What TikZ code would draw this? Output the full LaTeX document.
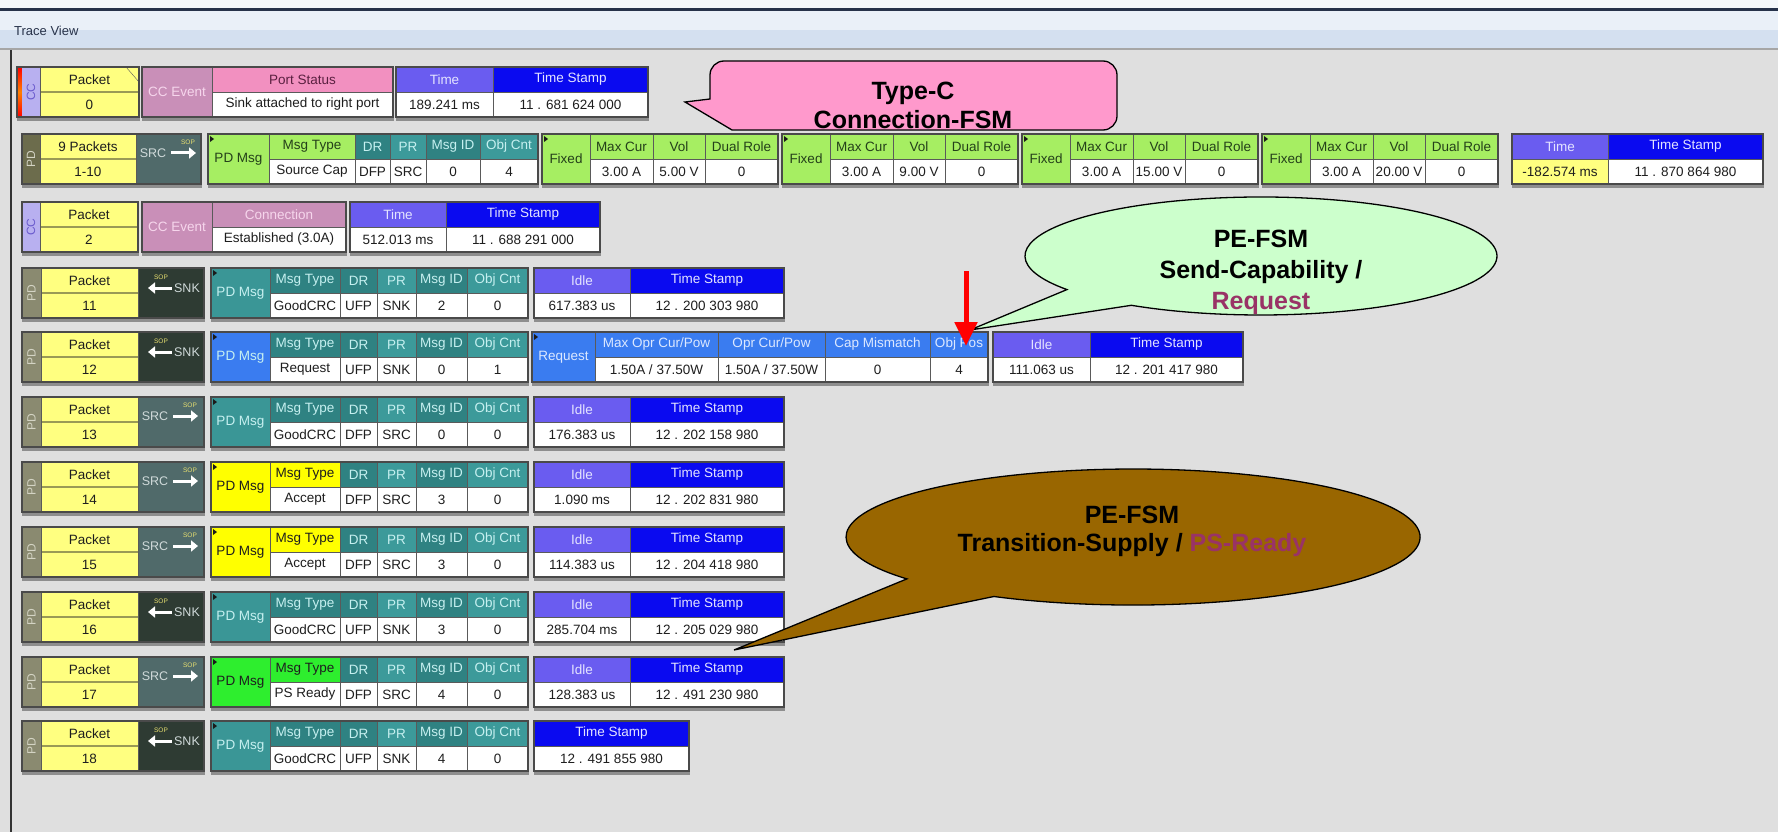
\documentclass[tikz,border=0pt]{standalone}
\usepackage{fontspec}
\setmainfont{Liberation Sans}
\usetikzlibrary{arrows.meta}

% palette
\definecolor{panelbg}{HTML}{DFDFDF}
\definecolor{titletop}{HTML}{EAF0F8}
\definecolor{titlebot}{HTML}{C6D5EA}
\definecolor{darkline}{HTML}{27324A}
\definecolor{cellline}{HTML}{5A5A5A}
\definecolor{framec}{HTML}{4A4A4A}
\definecolor{shadowc}{HTML}{8E8E8E}
\definecolor{pktyel}{HTML}{FFFF80}
\definecolor{pktline}{HTML}{9A9A55}
\definecolor{pdcol}{HTML}{8A8A70}
\definecolor{pdcoldark}{HTML}{6C6C4C}
\definecolor{pdcoltext}{HTML}{D4D4C4}
\definecolor{cccol}{HTML}{B8B0F0}
\definecolor{cctext}{HTML}{6A5ACD}
\definecolor{srcc}{HTML}{506A6A}
\definecolor{snkc}{HTML}{2E3B33}
\definecolor{srctext}{HTML}{D0DADA}
\definecolor{soptext}{HTML}{E8E070}
\definecolor{tealmsg}{HTML}{3A9696}
\definecolor{tealhdr}{HTML}{2F8282}
\definecolor{teallt}{HTML}{3C9A9A}
\definecolor{tealtext}{HTML}{C6F0F0}
\definecolor{valtext}{HTML}{1E1E1E}
\definecolor{idleh}{HTML}{6A5CF0}
\definecolor{tsh}{HTML}{0A0AF0}
\definecolor{hdrwhite}{HTML}{E4E4FF}
\definecolor{ccev}{HTML}{C98FB8}
\definecolor{ccevtext}{HTML}{F6D6EC}
\definecolor{portpink}{HTML}{F290C0}
\definecolor{porttext}{HTML}{5A2040}
\definecolor{srccapg}{HTML}{A6EE62}
\definecolor{greentext}{HTML}{24401A}
\definecolor{reqblue}{HTML}{3A7CF0}
\definecolor{reqtext}{HTML}{DCE8FF}
\definecolor{acceptyel}{HTML}{FFFF00}
\definecolor{psgreen}{HTML}{2EEE2E}
\definecolor{calpink}{HTML}{FF99CC}
\definecolor{calgreen}{HTML}{CCFFCC}
\definecolor{calbrown}{HTML}{996600}
\definecolor{calpurple}{HTML}{993366}
\definecolor{cmark}{HTML}{1A1A1A}

\tikzset{
  txt/.style={font=\fontsize{13.5}{15}\selectfont, inner sep=0pt, text=valtext},
  dirtxt/.style={font=\fontsize{12.5}{14}\selectfont, inner sep=0pt, text=srctext},
  pdtxt/.style={font=\fontsize{12}{13}\selectfont, rotate=90, inner sep=0pt},
  soptxt/.style={font=\fontsize{6.5}{7}\selectfont, inner sep=0pt, text=soptext},
  callfont/.style={font=\fontsize{25}{28}\bfseries\selectfont, inner sep=0pt},
  dirarrow/.style={white, line width=3, -{Triangle[length=7,width=11]}},
}

% one cell: x1 x2 y1 y2 fill textcolor label
\newcommand\tvc[7]{%
  \fill[#5] (#1,#3) rectangle (#2,#4);
  \draw[cellline,line width=0.8] (#1,#3) rectangle (#2,#4);
  \node[txt,text=#6] at ({(#1+#2)/2},{(#3+#4)/2}) {#7};}
% header over value: x1 x2 top hfill htext hlabel vfill value
\newcommand\hv[8]{%
  \tvc{#1}{#2}{#3}{#3+25}{#4}{#5}{#6}%
  \tvc{#1}{#2}{#3+25}{#3+50}{#7}{valtext}{#8}}
% full height cell: x1 x2 top fill textcolor label
\newcommand\tall[6]{\tvc{#1}{#2}{#3}{#3+50}{#4}{#5}{#6}}
% bottom bevel and outer frame of a group: x1 x2 top
\newcommand\shad[3]{\fill[shadowc] (#1,#3+44) rectangle (#2+1,#3+54);}
\newcommand\frm[3]{\draw[framec,line width=1.3] (#1,#3) rectangle (#2,#3+50);}
% small marker in the upper left corner of a cell
\newcommand\tvtick[2]{\fill[cmark] (#1+2,#2+2) -- (#1+6,#2+5) -- (#1+2,#2+8) -- cycle;}
% packet number column: x1 x2 top header value
\newcommand\pkt[5]{%
  \fill[pktyel] (#1,#3) rectangle (#2,#3+50);
  \draw[pktline,line width=2.5] (#1,#3+25) -- (#2,#3+25);
  \node[txt] at ({(#1+#2)/2},{#3+12.5}) {#4};
  \node[txt] at ({(#1+#2)/2},{#3+37.5}) {#5};
  \draw[cellline,line width=0.8] (#1,#3) rectangle (#2,#3+50);}
% direction cells
\newcommand\srccell[3]{%
  \fill[srcc] (#1,#3) rectangle (#2,#3+50);
  \node[dirtxt] at ({#1+17},{#3+19}) {SRC};
  \draw[dirarrow] ({#1+35},{#3+19}) -- ({#1+60},{#3+19});
  \node[soptxt] at ({#1+52},{#3+8}) {SOP};
  \draw[cellline,line width=0.8] (#1,#3) rectangle (#2,#3+50);}
\newcommand\snkcell[3]{%
  \fill[snkc] (#1,#3) rectangle (#2,#3+50);
  \draw[dirarrow] ({#1+34},{#3+20}) -- ({#1+10},{#3+20});
  \node[dirtxt] at ({#1+49},{#3+20}) {SNK};
  \node[soptxt] at ({#1+23},{#3+9}) {SOP};
  \draw[cellline,line width=0.8] (#1,#3) rectangle (#2,#3+50);}
% PD side column + packet + direction: top number src|snk
\newcommand\leftgrp[3]{%
  \shad{22}{204}{#1}
  \fill[pdcol] (22,#1) rectangle (41,#1+50);
  \node[pdtxt,text=pdcoltext] at (31.5,{#1+25}) {PD};
  \pkt{41}{138}{#1}{Packet}{#2}
  \csname #3cell\endcsname{138}{204}{#1}
  \frm{22}{204}{#1}}
% message header group: top pdfill mtfill hdrtext type dr pr id cnt
\newcommand\msggrp[9]{%
  \shad{211}{528}{#1}
  \tall{211}{270}{#1}{#2}{#4}{PD Msg}
  \tvtick{211}{#1}
  \hv{270}{340}{#1}{#3}{#4}{Msg Type}{white}{#5}
  \hv{340}{377}{#1}{tealhdr}{tealtext}{DR}{white}{#6}
  \hv{377}{416}{#1}{teallt}{tealtext}{PR}{white}{#7}
  \hv{416}{467}{#1}{tealhdr}{tealtext}{Msg ID}{white}{#8}
  \hv{467}{528}{#1}{teallt}{tealtext}{Obj Cnt}{white}{#9}
  \frm{211}{528}{#1}}
% idle + time stamp group: top x1 xm x2 idle stamp
\newcommand\itgrp[6]{%
  \shad{#2}{#4}{#1}
  \hv{#2}{#3}{#1}{idleh}{hdrwhite}{Idle}{white}{#5}
  \hv{#3}{#4}{#1}{tsh}{hdrwhite}{Time Stamp}{white}{#6}
  \frm{#2}{#4}{#1}}

\begin{document}
\begin{tikzpicture}[x=1pt,y=-1pt]
\useasboundingbox (0,0) rectangle (1778,832);

% window frame and title bar
\fill[panelbg] (0,0) rectangle (1778,832);
\fill[titletop!50!white] (0,0) rectangle (1778,9);
\fill[darkline] (0,8.5) rectangle (1778,11.5);
\fill[titletop] (0,11.5) rectangle (1778,30);
\fill[titlebot!60!titletop] (0,30) rectangle (1778,48);
\draw[gray!70,line width=1.5] (0,49) -- (1778,49);
\node[anchor=west,font=\fontsize{13}{15}\selectfont,text=darkline,inner sep=0pt] (title) at (14,31) {Trace View};
\draw[gray!40!black,line width=1.5] (11,50) -- (11,832);

% ---- packet 0 : port status ----
\shad{17}{139}{67}
\shade[top color=red,bottom color=red,middle color=orange] (17,67) rectangle (22,117);
\fill[cccol] (22,67) rectangle (40,117);
\node[pdtxt,text=cctext] at (31,92) {CC};
\pkt{40}{139}{67}{Packet}{0}
\draw[cellline] (126,67) -- (139,82);
\frm{17}{139}{67}
\shad{142}{393}{67}
\tall{142}{212}{67}{ccev}{ccevtext}{CC Event}
\hv{212}{393}{67}{portpink}{porttext}{Port Status}{white}{Sink attached to right port}
\frm{142}{393}{67}
\shad{396}{648}{67}
\hv{396}{493}{67}{idleh}{hdrwhite}{Time}{white}{189.241 ms}
\hv{493}{648}{67}{tsh}{hdrwhite}{Time Stamp}{white}{11 . 681 624 000}
\frm{396}{648}{67}

% ---- packets 1-10 : source capabilities ----
\shad{22}{201}{134}
\fill[pdcoldark] (22,134) rectangle (40,184);
\node[pdtxt,text=pdcoltext] at (31,159) {PD};
\pkt{40}{136}{134}{9 Packets}{1-10}
\srccell{136}{201}{134}
\frm{22}{201}{134}
\shad{208}{538}{134}
\tall{208}{269}{134}{srccapg}{greentext}{PD Msg}
\tvtick{208}{134}
\hv{269}{355}{134}{srccapg}{greentext}{Msg Type}{white}{Source Cap}
\hv{355}{390}{134}{tealhdr}{tealtext}{DR}{white}{DFP}
\hv{390}{426}{134}{teallt}{tealtext}{PR}{white}{SRC}
\hv{426}{480}{134}{tealhdr}{tealtext}{Msg ID}{white}{0}
\hv{480}{538}{134}{teallt}{tealtext}{Obj Cnt}{white}{4}
\frm{208}{538}{134}
\foreach \s/\volt in {542/5.00 V,782/9.00 V,1022/15.00 V,1262/20.00 V}{
  \shad{\s}{\s+236}{134}
  \tall{\s}{\s+48}{134}{srccapg}{greentext}{Fixed}
  \tvtick{\s}{134}
  \hv{\s+48}{\s+111}{134}{srccapg}{greentext}{Max Cur}{white}{3.00 A}
  \hv{\s+111}{\s+163}{134}{srccapg}{greentext}{Vol}{white}{\volt}
  \hv{\s+163}{\s+236}{134}{srccapg}{greentext}{Dual Role}{white}{0}
  \frm{\s}{\s+236}{134}
}
\shad{1512}{1763}{134}
\hv{1512}{1608}{134}{idleh}{hdrwhite}{Time}{pktyel}{-182.574 ms}
\hv{1608}{1763}{134}{tsh}{hdrwhite}{Time Stamp}{white}{11 . 870 864 980}
\frm{1512}{1763}{134}

% ---- packet 2 : connection ----
\shad{22}{138}{202}
\fill[cccol] (22,202) rectangle (40,252);
\node[pdtxt,text=cctext] at (31,227) {CC};
\pkt{40}{138}{202}{Packet}{2}
\frm{22}{138}{202}
\shad{142}{346}{202}
\tall{142}{212}{202}{ccev}{ccevtext}{CC Event}
\hv{212}{346}{202}{ccev}{ccevtext}{Connection}{white}{Established (3.0A)}
\frm{142}{346}{202}
\shad{350}{600}{202}
\hv{350}{446}{202}{idleh}{hdrwhite}{Time}{white}{512.013 ms}
\hv{446}{600}{202}{tsh}{hdrwhite}{Time Stamp}{white}{11 . 688 291 000}
\frm{350}{600}{202}

% ---- packet 11 ----
\leftgrp{268}{11}{snk}
\msggrp{268}{tealmsg}{tealhdr}{tealtext}{GoodCRC}{UFP}{SNK}{2}{0}
\itgrp{268}{534}{630}{784}{617.383 us}{12 . 200 303 980}

% ---- packet 12 : request ----
\leftgrp{332}{12}{snk}
\msggrp{332}{reqblue}{tealhdr}{tealtext}{Request}{UFP}{SNK}{0}{1}
\shad{532}{988}{332}
\tall{532}{595}{332}{reqblue}{reqtext}{Request}
\tvtick{532}{332}
\hv{595}{718}{332}{reqblue}{reqtext}{Max Opr Cur/Pow}{white}{1.50A / 37.50W}
\hv{718}{825}{332}{reqblue}{reqtext}{Opr Cur/Pow}{white}{1.50A / 37.50W}
\hv{825}{930}{332}{reqblue}{reqtext}{Cap Mismatch}{white}{0}
\hv{930}{988}{332}{reqblue}{reqtext}{Obj Pos}{white}{4}
\frm{532}{988}{332}
\itgrp{332}{993}{1090}{1243}{111.063 us}{12 . 201 417 980}

% ---- packets 13 to 18 ----
\leftgrp{397}{13}{src}
\msggrp{397}{tealmsg}{tealhdr}{tealtext}{GoodCRC}{DFP}{SRC}{0}{0}
\itgrp{397}{534}{630}{784}{176.383 us}{12 . 202 158 980}

\leftgrp{462}{14}{src}
\msggrp{462}{acceptyel}{acceptyel}{valtext}{Accept}{DFP}{SRC}{3}{0}
\itgrp{462}{534}{630}{784}{1.090 ms}{12 . 202 831 980}

\leftgrp{527}{15}{src}
\msggrp{527}{acceptyel}{acceptyel}{valtext}{Accept}{DFP}{SRC}{3}{0}
\itgrp{527}{534}{630}{784}{114.383 us}{12 . 204 418 980}

\leftgrp{592}{16}{snk}
\msggrp{592}{tealmsg}{tealhdr}{tealtext}{GoodCRC}{UFP}{SNK}{3}{0}
\itgrp{592}{534}{630}{784}{285.704 ms}{12 . 205 029 980}

\leftgrp{657}{17}{src}
\msggrp{657}{psgreen}{psgreen}{valtext}{PS Ready}{DFP}{SRC}{4}{0}
\itgrp{657}{534}{630}{784}{128.383 us}{12 . 491 230 980}

\leftgrp{721}{18}{snk}
\msggrp{721}{tealmsg}{tealhdr}{tealtext}{GoodCRC}{UFP}{SNK}{4}{0}
\shad{534}{689}{721}
\hv{534}{689}{721}{tsh}{hdrwhite}{Time Stamp}{white}{12 . 491 855 980}
\frm{534}{689}{721}

% ---- callouts ----
\filldraw[fill=calpink,draw=black,line width=1.3]
  (685,102) -- (710,99) -- (710,75) arc[start angle=180,end angle=270,radius=14]
  -- (1103,61) arc[start angle=270,end angle=360,radius=14]
  -- (1117,116) arc[start angle=0,end angle=90,radius=14]
  -- (732,130) -- cycle;
\node[callfont] (typec) at (913,93) {Type-C};
\node[callfont] (connfsm) at (913,120) {Connection-FSM};

\filldraw[fill=calgreen,draw=black,line width=1.3]
  (1131.4,305.3) arc[start angle=123.3,end angle=-214.7,x radius=236,y radius=59]
  -- (970,330) -- cycle;
\node[callfont] (pefsmA) at (1261,239) {PE-FSM};
\node[callfont] (sendcap) at (1261,272) {Send-Capability /};
\node[callfont,text=calpurple] (reqword) at (1261,303) {Request};

\filldraw[fill=calbrown,draw=black,line width=1.3]
  (993.9,596.5) arc[start angle=119,end angle=-218,x radius=287,y radius=68]
  -- (734,650) -- cycle;
\node[callfont] (pefsmB) at (1132,515) {PE-FSM};
\node[callfont] (transup) at (1132,545) {Transition-Supply / \textcolor{calpurple}{PS-Ready}};

% marker on the object position field
\coordinate (arrowtop) at (966,271);
\coordinate (arrowtip) at (966,346);
\draw[red,line width=5,-{Triangle[length=24,width=22]}] (arrowtop) -- (arrowtip);
\end{tikzpicture}
\end{document}
